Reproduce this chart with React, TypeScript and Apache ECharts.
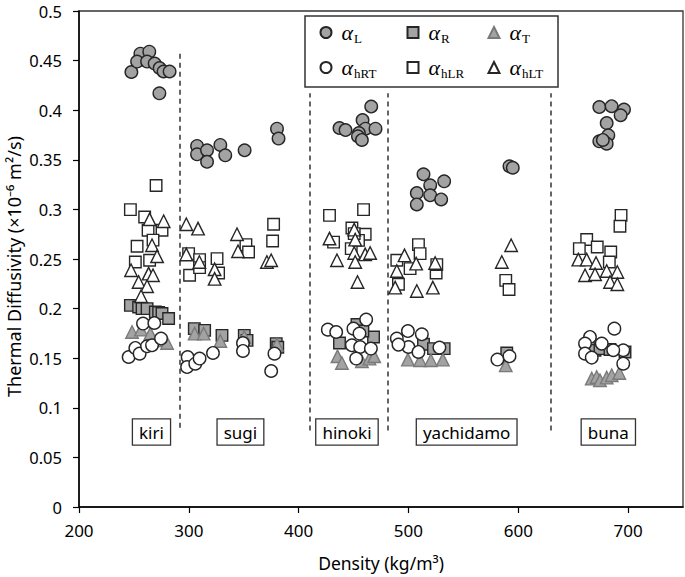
import React, { useEffect, useRef } from "react";
import * as echarts from "echarts";

// ---- Data (density kg/m3, thermal diffusivity ×10^-6 m2/s) ----
const aL: number[][] = [
  [247.7, 0.4385], [255.9, 0.457], [264, 0.459], [252.9, 0.449], [262, 0.449], [268.9, 0.447], [273.4, 0.4425], [277, 0.439], [282.5, 0.439], [273.2, 0.417],
  [307.5, 0.364], [307.5, 0.3555], [316.6, 0.3596], [316.6, 0.348], [328.7, 0.365], [333.2, 0.3545], [350.8, 0.3596], [380.3, 0.3814], [381.7, 0.3714],
  [466.1, 0.4037], [437.2, 0.382], [442.7, 0.38], [458.2, 0.39], [460.9, 0.3814], [470, 0.3814], [454.9, 0.377], [454, 0.3737], [457.6, 0.37],
  [513.7, 0.3354], [519.8, 0.3243], [532.5, 0.3283], [507.6, 0.3165], [519.8, 0.3142], [529.8, 0.31], [507.6, 0.305], [592, 0.3434], [595, 0.342],
  [673.8, 0.4032], [685, 0.404], [696.3, 0.4006], [693.2, 0.3949], [680.5, 0.387], [682, 0.3747], [673.8, 0.3686], [680.5, 0.3663], [677, 0.37],
];
const aR: number[][] = [
  [246.8, 0.2033], [254.3, 0.2016], [257.4, 0.2], [262, 0.2], [269.5, 0.1966], [272.5, 0.196], [275.6, 0.195], [281.6, 0.19],
  [305, 0.1798], [314.4, 0.178], [330.2, 0.173], [350.5, 0.173], [353, 0.168], [379.6, 0.1647], [381, 0.161],
  [437.2, 0.1653], [453.1, 0.1839], [468.2, 0.1714], [458.5, 0.1774],
  [513.7, 0.164], [522.8, 0.1597], [532.5, 0.1597], [589.5, 0.1553],
  [669.9, 0.158], [674.4, 0.1597], [683.5, 0.1587], [697.2, 0.1563],
];
const aT: number[][] = [
  [248.3, 0.1764], [256.5, 0.1788], [265, 0.1748], [273.4, 0.168], [280.2, 0.1653],
  [305.3, 0.1748], [313.5, 0.1748], [328.7, 0.1674], [350.5, 0.1714], [380.3, 0.1636],
  [435.4, 0.1519], [439.4, 0.1452], [457.6, 0.1469], [464.5, 0.1496], [468.8, 0.1519],
  [499.5, 0.1486], [510.6, 0.1479], [520.4, 0.1479], [531.3, 0.1486], [588.6, 0.1428],
  [666.9, 0.1294], [671.4, 0.131], [674.4, 0.1277], [680.5, 0.1304], [685.1, 0.1328], [692, 0.1351],
];
const ahRT: number[][] = [
  [258.3, 0.1849], [268.6, 0.1855], [245.2, 0.1512], [251.3, 0.1603], [255.2, 0.1546], [262, 0.162], [266.5, 0.163], [274.7, 0.1698],
  [298.9, 0.1512], [298.4, 0.1411], [305.9, 0.1445], [309.8, 0.1496], [322, 0.1553], [349.3, 0.1653], [349.3, 0.1573], [378, 0.1546], [375, 0.1371],
  [426.6, 0.1788], [434.2, 0.1764], [449.9, 0.1798], [461.5, 0.1889], [455.4, 0.1748], [448.5, 0.163], [456, 0.1613], [465.8, 0.1597], [452.4, 0.1496],
  [489.4, 0.1698], [499.5, 0.1774], [512.2, 0.1741], [500, 0.1613], [509.1, 0.1563], [528.2, 0.1607], [490.9, 0.1637], [581, 0.1486], [592, 0.1519],
  [687.5, 0.1798], [665.3, 0.1714], [660.8, 0.1647], [676, 0.1647], [660.8, 0.1546], [666.9, 0.1506], [695.6, 0.158], [695.6, 0.1445], [686.5, 0.158],
];
const ahLR: number[][] = [
  [270.2, 0.3241], [246.8, 0.2998], [259.8, 0.2923], [262.9, 0.279], [275.6, 0.279], [267.4, 0.269], [252.9, 0.2628], [251.3, 0.247], [264.3, 0.2487],
  [299.8, 0.2554], [309.8, 0.2494], [325.7, 0.2504], [327.1, 0.2359], [300.7, 0.2336], [309.8, 0.2413], [352, 0.2645], [354.4, 0.257], [377.2, 0.285], [376.3, 0.2681],
  [428.1, 0.294], [459.1, 0.2998], [448.5, 0.2813], [460.6, 0.2749], [431.8, 0.267], [447.9, 0.2605], [454.5, 0.2688], [450.6, 0.2756],
  [509.1, 0.2645], [489.4, 0.2487], [510.6, 0.2554], [501.5, 0.2403], [525.2, 0.2359], [490.9, 0.2245], [525.8, 0.2443], [588.6, 0.2285], [591.6, 0.2192],
  [693.6, 0.294], [692.6, 0.283], [662.3, 0.2696], [671.9, 0.2621], [684.2, 0.257], [655.6, 0.2605], [682.9, 0.247],
];
const ahLT: number[][] = [
  [264.3, 0.29], [277.1, 0.288], [266.5, 0.2638], [271.1, 0.2527], [247.4, 0.2386], [263.4, 0.2353], [267.4, 0.2336], [254.3, 0.2268], [262, 0.2225], [256.5, 0.2124],
  [297.7, 0.285], [308.4, 0.2806], [297.7, 0.2546], [309.6, 0.247], [323.5, 0.2396], [323.5, 0.23], [343.9, 0.2749], [344.8, 0.2578], [371.1, 0.247], [375, 0.2487],
  [428.1, 0.2706], [450.6, 0.2796], [451.5, 0.2695], [434.9, 0.2487], [450.6, 0.256], [451.5, 0.247], [460.6, 0.2547], [465.1, 0.256], [453.6, 0.2268],
  [496.4, 0.2537], [507, 0.2453], [489.4, 0.2379], [487.9, 0.2211], [524.3, 0.246], [522.2, 0.2211], [507.6, 0.2177], [593.5, 0.2638], [585, 0.247],
  [654.7, 0.2494], [662.3, 0.2494], [670.8, 0.246], [680.5, 0.2379], [690.2, 0.2369], [660.8, 0.2336], [669.9, 0.2346], [683.6, 0.2268], [690.2, 0.2245],
];

const seriesSubs = ["L", "R", "T", "hRT", "hLR", "hLT"];
const speciesNames = ["kiri", "sugi", "hinoki", "yachidamo", "buna"];
const speciesLabelX = [266, 347, 444, 553, 682];
const speciesLabelY = [0.0756, 0.0756, 0.0756, 0.0756, 0.0756];
const dividerX = [292, 410, 481, 630];
const dividerTop = [0.457, 0.417, 0.417, 0.417];
const dividerBottom = [0.08, 0.077, 0.077, 0.077];
const xTicks = { min: 200, max: 750, interval: 100 };
const yTicks = { min: 0, max: 0.5, interval: 0.05 };

const SANS = "'Noto Sans', 'Open Sans', sans-serif";
const SERIF = "'Liberation Serif', 'DejaVu Serif', serif";

export default function App() {
  const ref = useRef<HTMLDivElement>(null);
  useEffect(() => {
    if (!ref.current) return;
    const chart = echarts.init(ref.current, undefined, { renderer: "svg" });
    const gray = "#a3a3a3";
    const dark = "#262626";
    const dataSets = [aL, aR, aT, ahRT, ahLR, ahLT];
    const styles = [
      { symbol: "circle", size: 12.5, color: gray, border: dark },
      { symbol: "rect", size: 11.5, color: gray, border: dark },
      { symbol: "triangle", size: 12.5, color: gray, border: "#7a7a7a" },
      { symbol: "circle", size: 12.5, color: "#ffffff", border: dark },
      { symbol: "rect", size: 11.5, color: "#ffffff", border: dark },
      { symbol: "triangle", size: 12.5, color: "#ffffff", border: dark },
    ];
    const names = seriesSubs.map((s) => "α" + s);
    const series: any[] = dataSets.map((d, i) => ({
      name: names[i],
      type: "scatter",
      data: d,
      symbol: styles[i].symbol,
      symbolSize: styles[i].size,
      itemStyle: { color: styles[i].color, borderColor: styles[i].border, borderWidth: 1.4, opacity: 1 },
      emphasis: { disabled: true },
      z: 2 + i,
    }));
    series.push({
      name: "labels",
      type: "scatter",
      data: speciesNames.map((n, i) => ({ name: n, value: [speciesLabelX[i], speciesLabelY[i]] })),
      symbolSize: 0,
      silent: true,
      z: 10,
      itemStyle: { opacity: 1, color: "#000" },
      emphasis: { disabled: true },
      label: {
        show: true,
        position: "inside",
        formatter: (p: any) => p.name,
        fontFamily: SANS,
        fontSize: 17,
        color: "#000",
        opacity: 1,
        textBorderWidth: 0,
        textBorderColor: "transparent",
        backgroundColor: "#fff",
        borderColor: "#333",
        borderWidth: 1.3,
        padding: [4, 6, 4, 6],
      },
      markLine: {
        silent: true,
        symbol: ["none", "none"],
        label: { show: false },
        lineStyle: { type: [5, 4], color: "#333", width: 1.5, opacity: 1 },
        data: dividerX.map((x, i) => [
          { coord: [x, dividerBottom[i]] },
          { coord: [x, dividerTop[i]] },
        ]),
      },
    });

    const colX = [325, 412, 493];
    const rowY = [33, 68];
    const legends = names.map((n, i) => ({
      show: true,
      data: [n],
      left: colX[i % 3] - 5.5,
      top: rowY[Math.floor(i / 3)] - 13,
      padding: 0,
      itemWidth: 11,
      itemHeight: 11,
      selectedMode: false,
      formatter: (name: string) => `{a|α}{s|${name.slice(1)}}`,
      textStyle: {
        rich: {
          a: { fontFamily: SERIF, fontStyle: "italic", fontSize: 22, lineHeight: 24, color: "#000", padding: [0, 1, 0, 5] },
          s: { fontFamily: SERIF, fontSize: 13, lineHeight: 14, color: "#000", padding: [12, 0, 0, 0] },
        },
      },
    }));

    chart.setOption({
      animation: false,
      backgroundColor: "#fff",
      grid: {
        left: 79, right: 2, top: 11, bottom: 70,
        outerBoundsMode: "none",
        containLabel: false,
        show: true, borderColor: "#333", borderWidth: 1.3,
      },
      legend: legends,
      graphic: [
        {
          type: "rect",
          z: 3,
          shape: { x: 305, y: 16, width: 253, height: 71 },
          style: { fill: "#fff", stroke: "#333", lineWidth: 1.5 },
        },
      ],
      xAxis: {
        type: "value",
        min: xTicks.min,
        max: xTicks.max,
        interval: xTicks.interval,
        name: "Density (kg/m³)",
        nameLocation: "middle",
        nameGap: 47,
        nameMoveOverlap: false,
        nameTextStyle: { fontFamily: SANS, fontSize: 17.5, color: "#000" },
        axisLine: { show: true, lineStyle: { color: "#000", width: 1.5 } },
        axisTick: { show: true, inside: false, length: 6, lineStyle: { color: "#000", width: 1.2 } },
        axisLabel: { fontFamily: SANS, fontSize: 17, color: "#000", margin: 15, showMaxLabel: false },
        splitLine: { show: false },
      },
      yAxis: {
        type: "value",
        min: yTicks.min,
        max: yTicks.max,
        interval: yTicks.interval,
        name: "Thermal Diffusivity (×10⁻⁶ m²/s)",
        nameLocation: "middle",
        nameGap: 56,
        nameMoveOverlap: false,
        nameTextStyle: { fontFamily: SANS, fontSize: 18, color: "#000", padding: [0, 15, 0, 0] },
        axisLine: { show: true, lineStyle: { color: "#000", width: 1.5 } },
        axisTick: { show: true, inside: false, length: 6, lineStyle: { color: "#000", width: 1.2 } },
        axisLabel: {
          fontFamily: SANS,
          fontSize: 16.5,
          color: "#000",
          margin: 17,
          formatter: (v: number) => String(+v.toFixed(2)),
        },
        splitLine: { show: false },
      },
      series,
    });
    return () => chart.dispose();
  }, []);
  return (
    <div
      ref={ref}
      style={{ position: "fixed", left: 0, top: 0, width: 685, height: 577, background: "#fff" }}
    />
  );
}
